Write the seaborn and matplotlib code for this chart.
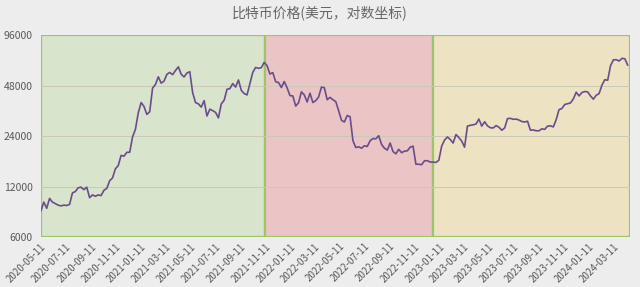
import matplotlib
matplotlib.use("Agg")
import matplotlib.pyplot as plt
import matplotlib.dates as mdates
import matplotlib.ticker as mticker
import seaborn as sns
import pandas as pd
import numpy as np

start_date = "2020-05-11"
prices = [
    # 2020
    8600, 9700, 8900, 10200, 9700, 9500, 9300, 9200, 9300, 9250, 9400, 11000,
    11200, 11800, 11900, 11500, 11900, 10300, 10700, 10500, 10700, 10600, 11400,
    11700, 13000, 13500, 15300, 16000, 18400, 18200, 19200, 19200, 23700, 26300,
    # 2021
    33000, 38000, 36000, 32300, 33500, 46400, 48700, 54100, 49600, 51000, 56000,
    57400, 55700, 59000, 62000, 56000, 54000, 57000, 58000, 43500, 38000, 37300,
    35700, 39000, 31600, 34700, 34000, 33200, 30800, 37300, 39200, 45600, 46000,
    49300, 47000, 51800, 44900, 43000, 42200, 49200, 57500, 61500, 60800, 61300,
    66000, 63000, 56200, 57300, 50600, 50000, 46700, 50700,
    # 2022
    46500, 41800, 41600, 36200, 37900, 44000, 42200, 38300, 43200, 38000, 39000,
    41000, 47000, 46600, 39500, 40800, 39500, 38500, 34000, 29800, 29100, 31800,
    31300, 22500, 20500, 20700, 20300, 21000, 20800, 22500, 23200, 23100, 24100,
    21400, 20300, 19800, 21800, 19400, 18800, 20000, 19100, 19500, 19600, 20600,
    20900, 16300, 16300, 16200, 17100, 17100, 16800, 16800,
    # 2023
    16700, 17200, 20900, 22700, 23700, 22900, 21800, 24500, 23500, 22400, 20600,
    27500, 27800, 28000, 28300, 30300, 27500, 29200, 27600, 26900, 26800, 27700,
    27100, 26000, 26800, 30500, 30600, 30200, 30300, 29900, 29300, 29100, 29400,
    26000, 26100, 25800, 25800, 26500, 26300, 27500, 27600, 27200, 30000, 34500,
    35000, 37000, 37400, 37800, 39900, 43800, 41600, 43600,
    # 2024
    44200, 44000, 41600, 39800, 42000, 43000, 48300, 52000, 51600, 63000, 68300,
    68400, 67200, 69700, 69300, 63400,
]
dates = pd.date_range(start_date, periods=len(prices), freq="7D")

phase_bounds = ["2020-05-11", "2021-11-09", "2022-12-26", "2024-04-20"]
phase_colors = ["#d9e4cc", "#ebc5c5", "#ede3c2"]
y_ticks = [6000, 12000, 24000, 48000, 96000]
tick_dates = pd.date_range("2020-05-01", "2024-03-01", freq="2MS") + pd.Timedelta(days=10)

title = "比特币价格(美元，对数坐标)"

df = pd.DataFrame({"date": dates, "price": prices})

sns.set_theme(style="white")
plt.rcParams["font.family"] = ["Noto Sans CJK SC", "DejaVu Sans"]

fig = plt.figure(figsize=(6.4, 2.87), dpi=100)
fig.patch.set_facecolor("#ededed")
ax = fig.add_axes([0.064, 0.174, 0.92, 0.704])
ax.set_facecolor("#ededed")

bounds = pd.to_datetime(phase_bounds)
for i in range(len(phase_colors)):
    ax.axvspan(bounds[i], bounds[i + 1], facecolor=phase_colors[i],
               edgecolor="#9cc46a", linewidth=1.6, zorder=0)

for yv in y_ticks[1:-1]:
    ax.axhline(yv, color="#c9c9b6", linewidth=0.7, zorder=1)

sns.lineplot(data=df, x="date", y="price", ax=ax, color="#6a4c8c",
             linewidth=1.2, zorder=3)

ax.set_yscale("log", base=2)
ax.set_ylim(6000, 96000)
ax.set_xlim(bounds[0], bounds[-1])
ax.yaxis.set_major_locator(mticker.FixedLocator(y_ticks))
ax.yaxis.set_minor_locator(mticker.NullLocator())
ax.yaxis.set_major_formatter(mticker.FixedFormatter([str(v) for v in y_ticks]))
ax.set_xticks(tick_dates)
ax.set_xticklabels([d.strftime("%Y-%m-%d") for d in tick_dates],
                   rotation=45, ha="right", rotation_mode="anchor")
ax.tick_params(axis="both", length=0, labelcolor="#595959")
ax.tick_params(axis="x", pad=3, labelsize=7)
ax.tick_params(axis="y", pad=6, labelsize=7.5)
for s in ax.spines.values():
    s.set_visible(False)
ax.set_xlabel("")
ax.set_ylabel("")

fig.text(0.5, 0.955, title, ha="center", va="center", fontsize=10, color="#666666")

fig.savefig("out.png", dpi=100, facecolor=fig.get_facecolor())
